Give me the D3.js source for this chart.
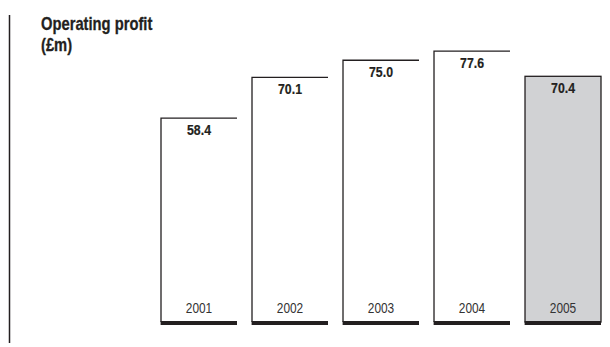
<!DOCTYPE html>
<html>
<head>
<meta charset="utf-8">
<script src="https://cdn.jsdelivr.net/npm/d3@7"></script>
<style>
  html, body { margin: 0; padding: 0; background: #fff; }
  svg { display: block; }
  text { font-family: "Liberation Sans", Arial, sans-serif; fill: #231f20; }
</style>
</head>
<body>
<svg id="chart" width="610" height="347"></svg>
<script>
// Operating profit by year, £m
const years = ["2001", "2002", "2003", "2004", "2005"];
const profit = [58.4, 70.1, 75.0, 77.6, 70.4];
const highlightYear = "2005";
const titleLines = ["Operating profit", "(£m)"];

const ink = "#231f20";
const narrow = 0.82; // horizontal squeeze for a condensed face
const svg = d3.select("#chart");

const x = d3.scaleBand()
  .domain(years)
  .range([161, 601])
  .paddingInner(0.165)
  .paddingOuter(0);

const y = d3.scaleLinear()
  .domain([0, 80])
  .range([322, 322 - 80 * 3.49]);

const data = years.map((yr, i) => ({ year: yr, value: profit[i] }));

// Left margin rule
svg.append("line")
  .attr("x1", 9.5).attr("x2", 9.5)
  .attr("y1", 15).attr("y2", 343)
  .attr("stroke", ink).attr("stroke-width", 1.5);

// Title
titleLines.forEach((t, i) => {
  svg.append("text")
    .attr("transform", `translate(41,${30 + i * 21}) scale(${narrow},1)`)
    .style("font-size", "18px")
    .style("font-weight", "bold")
    .style("stroke", ink)
    .style("stroke-width", 0.3)
    .text(t);
});

const bars = svg.append("g").selectAll("g")
  .data(data)
  .join("g");

// Highlighted bar: filled box with full outline
bars.filter(d => d.year === highlightYear)
  .append("rect")
  .attr("x", d => x(d.year))
  .attr("y", d => y(d.value))
  .attr("width", x.bandwidth())
  .attr("height", d => y(0) - y(d.value))
  .attr("fill", "#d1d2d4")
  .attr("stroke", ink)
  .attr("stroke-width", 1.3);

// Other bars: left edge and top edge only
bars.filter(d => d.year !== highlightYear)
  .append("path")
  .attr("d", d => {
    const x0 = x(d.year), x1 = x0 + x.bandwidth();
    return `M${x0},${y(0)}V${y(d.value)}H${x1}`;
  })
  .attr("fill", "none")
  .attr("stroke", ink)
  .attr("stroke-width", 1.3);

// Heavy base under each bar
bars.append("rect")
  .attr("x", d => x(d.year) - 0.4)
  .attr("y", y(0) - 1)
  .attr("width", x.bandwidth() + 0.4)
  .attr("height", 4)
  .attr("fill", ink);

// Value labels
bars.append("text")
  .attr("transform", d => `translate(${x(d.year) + x.bandwidth() / 2},${y(d.value) + 17}) scale(0.88,1)`)
  .attr("text-anchor", "middle")
  .style("font-size", "14px")
  .style("font-weight", "bold")
  .style("stroke", ink)
  .style("stroke-width", 0.2)
  .text(d => d.value.toFixed(1));

// Year labels
bars.append("text")
  .attr("transform", d => `translate(${x(d.year) + x.bandwidth() / 2},313) scale(${narrow},1)`)
  .attr("text-anchor", "middle")
  .style("font-size", "14.5px")
  .style("fill", "#333")
  .text(d => d.year);
</script>
</body>
</html>
